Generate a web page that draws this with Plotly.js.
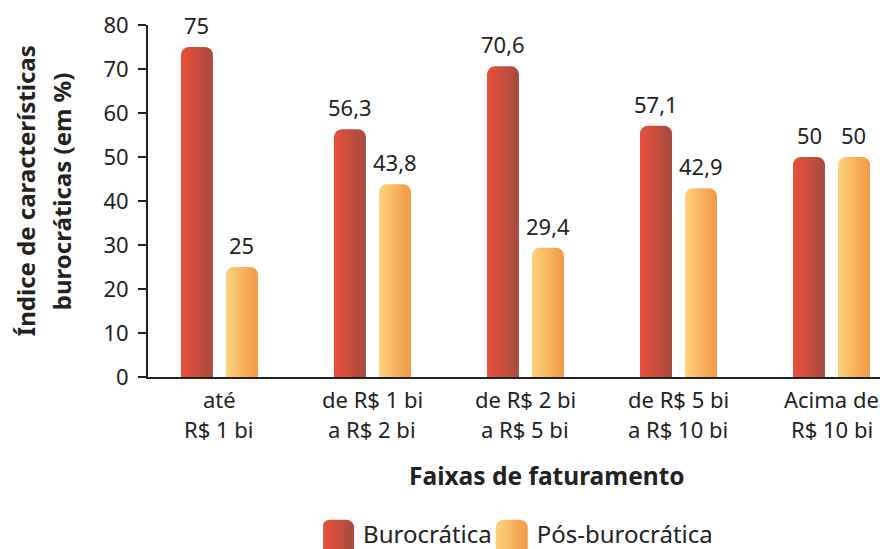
<!DOCTYPE html>
<html>
<head>
<meta charset="utf-8">
<script src="https://cdn.plot.ly/plotly-3.0.1.min.js"></script>
<style>html,body{margin:0;padding:0;background:#fff}#chart{width:880px;height:549px}</style>
</head>
<body>
<div id="chart"></div>
<script>
// ---- data ----
const catLine1 = ["até", "de R$ 1 bi", "de R$ 2 bi", "de R$ 5 bi", "Acima de"];
const catLine2 = ["R$ 1 bi", "a R$ 2 bi", "a R$ 5 bi", "a R$ 10 bi", "R$ 10 bi"];
const burocratica = [75, 56.3, 70.6, 57.1, 50];
const posBurocratica = [25, 43.8, 29.4, 42.9, 50];
const seriesNames = ["Burocrática", "Pós-burocrática"];
const yTickVals = [0, 10, 20, 30, 40, 50, 60, 70, 80];
const yTitleLines = ["Índice de características", "burocráticas (em %)"];
const xTitle = "Faixas de faturamento";

const FONT = "'Noto Sans', 'Open Sans', sans-serif";
const INK = "#222222";
const xs = catLine1.map((_, i) => i);
const W = 0.209, GAP = 0.0425;
const fmt = v => String(v).replace('.', ',');
const TS = 22;

const traces = [
  {type: 'bar', name: seriesNames[0], x: xs, y: burocratica, width: W, offset: -GAP - W,
   marker: {color: '#c94d3c', cornerradius: 8}, hoverinfo: 'none'},
  {type: 'bar', name: seriesNames[1], x: xs, y: posBurocratica, width: W, offset: GAP,
   marker: {color: '#f8b35e', cornerradius: 8}, hoverinfo: 'none'}
];

const ann = [];
xs.forEach(i => {
  ann.push({x: i - GAP - W/2, y: burocratica[i], xref: 'x', yref: 'y', text: fmt(burocratica[i]),
    showarrow: false, yanchor: 'bottom', yshift: 5, font: {family: FONT, size: TS, color: INK}});
  ann.push({x: i + GAP + W/2, y: posBurocratica[i], xref: 'x', yref: 'y', text: fmt(posBurocratica[i]),
    showarrow: false, yanchor: 'bottom', yshift: 5, font: {family: FONT, size: TS, color: INK}});
  ann.push({x: i, y: 0, xref: 'x', yref: 'paper', text: catLine1[i], showarrow: false,
    yanchor: 'middle', yshift: -22, font: {family: FONT, size: TS, color: INK}});
  ann.push({x: i, y: 0, xref: 'x', yref: 'paper', text: catLine2[i], showarrow: false,
    yanchor: 'middle', yshift: -52, font: {family: FONT, size: TS, color: INK}});
});
ann.push({x: 0.545, y: 0, xref: 'paper', yref: 'paper', text: '<b>' + xTitle + '</b>', showarrow: false,
  yanchor: 'middle', yshift: -98, font: {family: FONT, size: 24.5, color: INK}});
ann.push({x: 0, y: 0.528, xref: 'paper', yref: 'paper', text: '<b>' + yTitleLines[0] + '</b>', showarrow: false,
  textangle: -90, xanchor: 'center', yanchor: 'middle', xshift: -123, font: {family: FONT, size: 24, color: INK}});
ann.push({x: 0, y: 0.528, xref: 'paper', yref: 'paper', text: '<b>' + yTitleLines[1] + '</b>', showarrow: false,
  textangle: -90, xanchor: 'center', yanchor: 'middle', xshift: -87, font: {family: FONT, size: 24, color: INK}});

const layout = {
  width: 880, height: 549,
  margin: {l: 148, r: 0, t: 25, b: 172},
  paper_bgcolor: '#fff', plot_bgcolor: '#fff',
  font: {family: FONT, size: TS, color: INK},
  showlegend: true,
  legend: {orientation: 'h', x: 0.509, xanchor: 'center', yref: 'container', y: 0.027, yanchor: 'middle',
    font: {family: FONT, size: 24, color: INK}, itemgap: 20, bgcolor: 'rgba(0,0,0,0)'},
  xaxis: {range: [-0.467, 4.317], showgrid: false, zeroline: false, showticklabels: false, ticks: '',
    showline: true, linecolor: INK, linewidth: 2, fixedrange: true},
  yaxis: {range: [0, 80], tickvals: yTickVals, ticks: 'outside', ticklen: 8, tickwidth: 2, tickcolor: INK,
    showline: true, linecolor: INK, linewidth: 2, showgrid: false, zeroline: false, ticklabelstandoff: 5,
    tickfont: {family: FONT, size: TS, color: INK}, fixedrange: true},
  annotations: ann,
  shapes: [{type: 'line', xref: 'paper', x0: 0, x1: 0, yref: 'y', ysizemode: 'pixel', yanchor: 0, y0: 0, y1: -9,
    line: {color: INK, width: 2}}]
};

Plotly.newPlot('chart', traces, layout, {displayModeBar: false, staticPlot: true}).then(gd => {
  const svg = gd.querySelector('.main-svg');
  let defs = svg.querySelector('defs');
  const NS = 'http://www.w3.org/2000/svg';
  const grads = [['gradRed', '#e8503a', '#a64b3f'], ['gradYel', '#fdd27e', '#f29843']];
  grads.forEach(([id, c1, c2]) => {
    const lg = document.createElementNS(NS, 'linearGradient');
    lg.setAttribute('id', id); lg.setAttribute('x1', '0'); lg.setAttribute('x2', '1');
    lg.setAttribute('y1', '0'); lg.setAttribute('y2', '0');
    [[0, c1], [1, c2]].forEach(([o, c]) => {
      const s = document.createElementNS(NS, 'stop');
      s.setAttribute('offset', o); s.setAttribute('stop-color', c);
      lg.appendChild(s);
    });
    defs.appendChild(lg);
  });
  const barTraces = gd.querySelectorAll('.barlayer .trace');
  barTraces.forEach((t, i) => {
    t.querySelectorAll('path').forEach(p => { p.style.fill = 'url(#' + grads[i][0] + ')'; });
  });
  const legTraces = gd.querySelectorAll('.legend .traces');
  legTraces.forEach((t, i) => {
    t.querySelectorAll('.legendpoints path').forEach(p => {
      p.setAttribute('d', 'M-21,17V-6A8,8 0 0 1 -13,-14H3A8,8 0 0 1 11,-6V17Z');
      p.style.fill = 'url(#' + grads[i][0] + ')';
      p.style.stroke = 'none';
    });
  });
});
</script>
</body>
</html>
